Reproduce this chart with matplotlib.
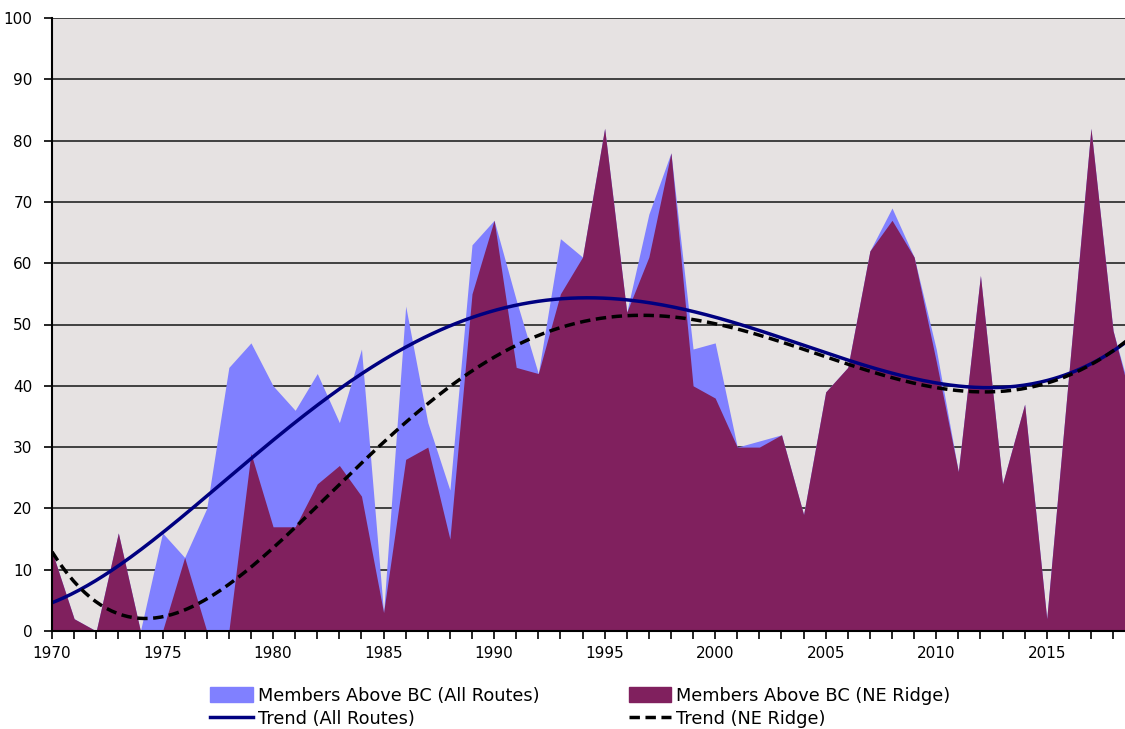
import numpy as np
import matplotlib
matplotlib.use("Agg")
import matplotlib.pyplot as plt
from matplotlib.patches import Patch
from matplotlib.lines import Line2D

years = list(range(1970, 2020))

# Members above base camp, all routes
all_routes = [13, 2, 0, 16, 0, 16, 12, 20, 43, 47,
              40, 36, 42, 34, 46, 3, 53, 34, 23, 63,
              67, 54, 42, 64, 61, 82, 52, 68, 78, 46,
              47, 30, 31, 32, 19, 39, 43, 62, 69, 61,
              46, 26, 58, 24, 37, 2, 42, 82, 49, 36]

# Members above base camp, NE Ridge
ne_ridge = [13, 2, 0, 16, 0, 0, 12, 0, 0, 29,
            17, 17, 24, 27, 22, 3, 28, 30, 15, 55,
            67, 43, 42, 55, 61, 82, 52, 61, 78, 40,
            38, 30, 30, 32, 19, 39, 43, 62, 67, 61,
            44, 26, 58, 24, 37, 2, 42, 82, 49, 35]

# polynomial trendlines (like excel), degree 5
trend_degree = 5

x = np.array(years, dtype=float)
xs = np.linspace(1970, 2019, 400)
fit_all = np.polyval(np.polyfit(x - 1994, all_routes, trend_degree), xs - 1994)
fit_ne = np.polyval(np.polyfit(x - 1994, ne_ridge, trend_degree), xs - 1994)

fig = plt.figure(figsize=(11.25, 7.29), dpi=100)
ax = fig.add_axes([52 / 1125, 1 - 631 / 729, 1 - 52 / 1125, 613 / 729])
ax.set_facecolor("#E6E2E2")

ax.fill_between(years, all_routes, color="#8080FF", linewidth=0, zorder=2)
ax.fill_between(years, ne_ridge, color="#80205E", linewidth=0, zorder=3)
ax.plot(xs, fit_all, color="#000080", linewidth=2.5, zorder=4)
ax.plot(xs, fit_ne, color="black", linewidth=2.5, linestyle=(0, (3, 1.6)), zorder=5)

ax.set_xlim(1970, 2018.54)
ax.set_ylim(0, 100)
ax.set_yticks(range(0, 101, 10))
ax.set_xticks(range(1970, 2016, 5))
ax.set_xticks(range(1970, 2019), minor=True)
ax.yaxis.grid(True, color="#404040", linewidth=1.4, zorder=1)
ax.set_axisbelow(True)
for side in ["top", "right"]:
    ax.spines[side].set_visible(False)
for side in ["left", "bottom"]:
    ax.spines[side].set_linewidth(1.5)
    ax.spines[side].set_zorder(6)
ax.tick_params(axis="both", labelsize=11, length=6, width=1.2, direction="out")
ax.tick_params(axis="x", which="minor", length=6, width=1.2)
ax.tick_params(axis="x", pad=5)
ax.tick_params(axis="y", pad=8)

handles = [Patch(color="#8080FF"), Line2D([], [], color="#000080", lw=2.5),
           Patch(color="#80205E"), Line2D([], [], color="black", lw=2.5, ls=(0, (3, 1.6)))]
labels = ["Members Above BC (All Routes)", "Trend (All Routes)",
          "Members Above BC (NE Ridge)", "Trend (NE Ridge)"]
fig.legend(handles, labels, ncol=2, loc="center", bbox_to_anchor=(0.516, 1 - 707.5 / 729),
           frameon=False, fontsize=12.8, handlelength=2.4, handleheight=0.9,
           handletextpad=0.28, columnspacing=5, labelspacing=0.3, borderpad=0)

fig.savefig("out.png", dpi=100)
